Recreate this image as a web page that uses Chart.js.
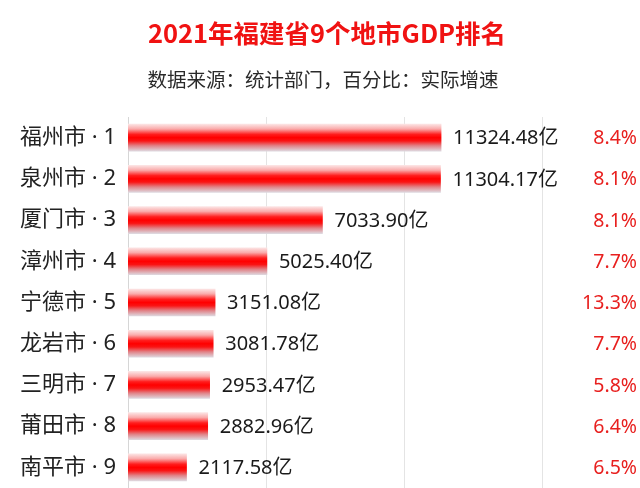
<!DOCTYPE html>
<html>
<head>
<meta charset="utf-8">
<script src="https://cdn.jsdelivr.net/npm/chart.js@4"></script>
<style>
html,body{margin:0;padding:0;background:#fff;}
#wrap{width:640px;height:488px;position:relative;}
</style>
</head>
<body>
<div id="wrap"><canvas id="c" width="640" height="488"></canvas></div>
<script>
const titleText = "2021年福建省9个地市GDP排名";
const subtitleText = "数据来源：统计部门，百分比：实际增速";
const cities = ["福州市 · 1","泉州市 · 2","厦门市 · 3","漳州市 · 4","宁德市 · 5","龙岩市 · 6","三明市 · 7","莆田市 · 8","南平市 · 9"];
const gdp = [11324.48, 11304.17, 7033.90, 5025.40, 3151.08, 3081.78, 2953.47, 2882.96, 2117.58];
const growth = ["8.4%","8.1%","8.1%","7.7%","13.3%","7.7%","5.8%","6.4%","6.5%"];
const gridValues = [5000, 10000, 15000];
const valueLabels = gdp.map(v => v.toFixed(2) + "亿");

const CJK = "'Noto Sans CJK SC', 'Noto Sans', sans-serif";
const MIX = "'Noto Sans', 'Noto Sans CJK SC', sans-serif";

function barGradient(ctx) {
  const chart = ctx.chart;
  if (!chart.chartArea || !chart.scales.y) return '#ff0000';
  const yc = chart.scales.y.getPixelForValue(ctx.dataIndex);
  const h = 27;
  const g = chart.ctx.createLinearGradient(0, yc - h/2, 0, yc + h/2);
  g.addColorStop(0, 'rgba(252,228,228,1)');
  g.addColorStop(0.18, 'rgba(250,170,170,1)');
  g.addColorStop(0.38, 'rgba(255,30,30,1)');
  g.addColorStop(0.5, 'rgba(255,0,0,1)');
  g.addColorStop(0.62, 'rgba(250,20,20,1)');
  g.addColorStop(0.8, 'rgba(225,130,135,1)');
  g.addColorStop(1, 'rgba(222,215,222,1)');
  return g;
}

const titlePlugin = {
  id: 'titles',
  afterDraw(chart) {
    const c = chart.ctx;
    c.save();
    c.textAlign = 'center';
    c.textBaseline = 'middle';
    c.fillStyle = '#f01212';
    c.font = "bold 25.5px " + CJK;
    c.fillText(titleText, 327, 33);
    c.fillStyle = '#2a2a2a';
    c.font = "19.5px " + CJK;
    c.fillText(subtitleText, 323, 80);
    c.restore();
  }
};

const labelPlugin = {
  id: 'barLabels',
  afterDatasetsDraw(chart) {
    const c = chart.ctx;
    const meta = chart.getDatasetMeta(0);
    c.save();
    c.textBaseline = 'middle';
    meta.data.forEach((bar, i) => {
      c.textAlign = 'left';
      c.fillStyle = '#1a1a1a';
      c.font = "20px " + MIX;
      c.fillText(valueLabels[i], bar.x + 12, bar.y + 1);
      c.textAlign = 'right';
      c.fillStyle = '#e8201f';
      c.font = "19.5px " + MIX;
      c.fillText(growth[i], 637, bar.y + 1);
    });
    c.restore();
  }
};

new Chart(document.getElementById('c'), {
  type: 'bar',
  data: {
    labels: cities,
    datasets: [{
      data: gdp,
      backgroundColor: barGradient,
      borderWidth: 0,
      barThickness: 27
    }]
  },
  options: {
    indexAxis: 'y',
    responsive: false,
    animation: false,
    layout: { padding: { top: 117, right: 0, bottom: 0, left: 0 } },
    plugins: {
      legend: { display: false },
      tooltip: { enabled: false },
      title: { display: false }
    },
    scales: {
      x: {
        min: 0,
        max: 18520,
        afterBuildTicks(scale) {
          scale.ticks = gridValues.map(v => ({ value: v }));
        },
        afterFit(scale) { scale.height = 0; },
        ticks: { display: false },
        grid: {
          drawTicks: false,
          color: '#e4e4e4',
          lineWidth: 1
        },
        border: { display: false }
      },
      y: {
        afterFit(scale) {
          scale.width = 128;
          scale.paddingTop = 0;
          scale.paddingBottom = 0;
        },
        ticks: {
          color: '#222',
          font: { family: MIX, size: 22 },
          padding: 12
        },
        grid: { display: false, drawTicks: false },
        border: { display: true, color: '#d6d6d6', width: 1 }
      }
    }
  },
  plugins: [titlePlugin, labelPlugin]
});
</script>
</body>
</html>
